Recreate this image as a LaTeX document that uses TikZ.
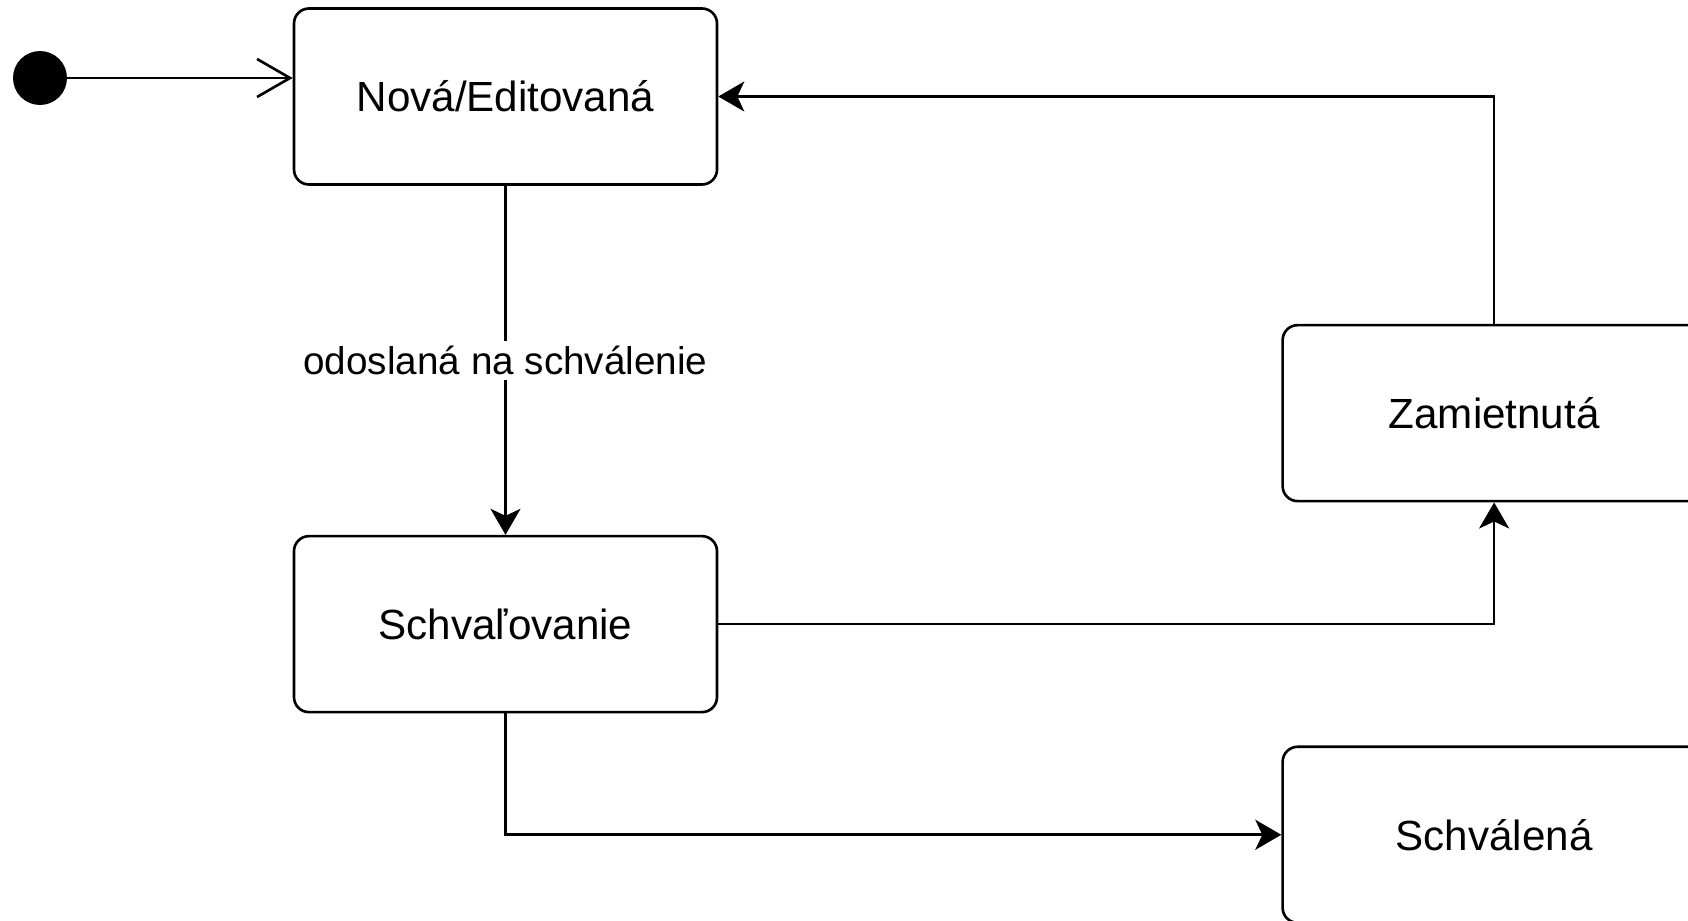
\documentclass[tikz,border=0pt]{standalone}
\usepackage{fontspec}
\setmainfont{Liberation Sans}
\usepackage{tikz}
\usetikzlibrary{positioning,arrows.meta}

\begin{document}
\begin{tikzpicture}[
        node distance=6.98cm and 11.26cm,
        state/.style={rectangle,draw,rounded corners=0.3cm,line width=1.5pt,font=\fontsize{24}{28}\selectfont,minimum width=8.46cm,minimum height=3.52cm,inner sep=0pt},
        start/.style={circle,fill=black,minimum size=1.08cm,inner sep=0pt},
        arrow/.style={-{Stealth[length=0.52cm,width=0.6cm,inset=0.14cm]},line width=1.5pt},
        open/.style={-{Straight Barb[length=0.66cm,width=0.76cm,line width=1.5pt]},line width=1.5pt}]
        \useasboundingbox (0,0) rectangle (33.76,-18.42);
        \node[start] (init) at (0.8,-1.56) {};
        \node[state] (nova) at (10.11,-1.93) {Nová/Editovaná};
        \node[state,below=of nova] (schval) {Schvaľovanie};
        \node[state,below right=2.76cm and 11.26cm of nova] (zamiet) {Zamietnutá};
        \node[state,below right=0.64cm and 11.26cm of schval] (schvalena) {Schválená};
        \draw[open] (init) -- (init -| nova.west);
        \draw[arrow] (nova) -- node[fill=white,font=\fontsize{22}{26}\selectfont,inner sep=3pt]{odoslaná na schválenie} (schval);
        \draw[arrow] (schval.east) -| (zamiet.south);
        \draw[arrow] (zamiet.north) |- (nova.east);
        \draw[arrow] (schval.south) |- (schvalena.west);
    \end{tikzpicture}
\end{document}
